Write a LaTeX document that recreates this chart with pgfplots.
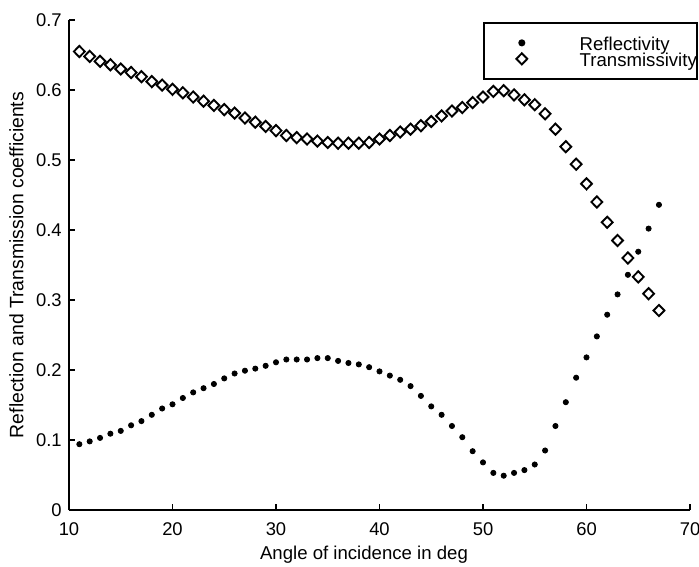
\documentclass[border=0pt]{standalone}
\usepackage{fontspec}
\setmainfont{Liberation Sans}
\usepackage{pgfplots}
\pgfplotsset{compat=1.18}

% single centred marker in the legend, with fixed room left and right of it
\pgfplotsset{
  legmark/.style={
    legend image code/.code={\path (-18.5bp,0bp) (28.5bp,0bp);
      \draw[##1, only marks] plot coordinates {(0bp,0bp)};}
  }
}

% Reflectivity and transmissivity versus angle of incidence (deg)
\pgfplotstableread{
x   y
11  0.094
12  0.098
13  0.103
14  0.109
15  0.113
16  0.121
17  0.127
18  0.136
19  0.145
20  0.151
21  0.160
22  0.168
23  0.174
24  0.180
25  0.188
26  0.195
27  0.199
28  0.202
29  0.206
30  0.211
31  0.215
32  0.215
33  0.215
34  0.217
35  0.217
36  0.213
37  0.210
38  0.208
39  0.204
40  0.198
41  0.192
42  0.186
43  0.177
44  0.163
45  0.148
46  0.136
47  0.120
48  0.104
49  0.084
50  0.068
51  0.053
52  0.049
53  0.053
54  0.057
55  0.065
56  0.085
57  0.120
58  0.154
59  0.189
60  0.218
61  0.248
62  0.279
63  0.308
64  0.336
65  0.369
66  0.402
67  0.436
}\reflect

\pgfplotstableread{
x   y
11  0.655
12  0.648
13  0.641
14  0.636
15  0.630
16  0.625
17  0.619
18  0.612
19  0.607
20  0.601
21  0.596
22  0.590
23  0.584
24  0.578
25  0.572
26  0.567
27  0.560
28  0.554
29  0.548
30  0.542
31  0.535
32  0.532
33  0.530
34  0.527
35  0.525
36  0.524
37  0.524
38  0.524
39  0.525
40  0.530
41  0.535
42  0.540
43  0.544
44  0.549
45  0.555
46  0.563
47  0.570
48  0.575
49  0.582
50  0.590
51  0.598
52  0.599
53  0.593
54  0.586
55  0.579
56  0.566
57  0.544
58  0.519
59  0.494
60  0.466
61  0.440
62  0.411
63  0.385
64  0.360
65  0.333
66  0.309
67  0.285
}\transmit

\begin{document}
\begin{tikzpicture}
\begin{axis}[
  scale only axis,
  width=310.5bp, height=245bp,
  xmin=10, xmax=70, ymin=0, ymax=0.7,
  xtick={10,20,...,70},
  ytick={0,0.1,...,0.7},
  yticklabels={0,0.1,0.2,0.3,0.4,0.5,0.6,0.7},
  axis x line=bottom, axis y line=left,
  axis line style={-, line width=0.9bp},
  tick align=inside,
  major tick length=3bp,
  every tick/.style={black, line width=0.8bp},
  /pgf/number format/assume math mode=true,
  tick label style={font=\fontsize{9.2bp}{11bp}\selectfont, inner sep=0pt},
  xticklabel shift=6bp,
  yticklabel shift=3.5bp,
  label style={font=\fontsize{9.3bp}{11bp}\selectfont, inner sep=0pt},
  xlabel={Angle of incidence in deg},
  xlabel style={at={(axis description cs:0.475,0)}, anchor=north, yshift=-18bp},
  ylabel={Reflection and Transmission coefficients},
  ylabel style={at={(axis description cs:-0.0725,0.5)}, anchor=south,
    font=\fontsize{9.7bp}{11bp}\selectfont},
  legend style={
    at={(rel axis cs:0.6667,0.996)}, anchor=north west,
    draw=black, line width=0.9bp,
    inner xsep=0bp, inner ysep=6bp,
    row sep=0bp,
    font=\fontsize{9.3bp}{8bp}\selectfont,
    nodes={inner sep=0pt, text height=7.8bp, text depth=0.2bp},
  },
  legend cell align=left,
]
\addplot[only marks, mark=*, mark size=1.3bp, black, legmark]
  table[x=x, y=y] {\reflect};
\addlegendentry{Reflectivity}
\addplot[only marks, mark=diamond, mark size=2.8bp,
  mark options={xscale=1.3, draw=black, fill=white, line width=0.95bp},
  legmark]
  table[x=x, y=y] {\transmit};
\addlegendentry{Transmissivity}
\end{axis}
\pgfresetboundingbox
\path[use as bounding box] (-34.5bp,-28.5bp) rectangle (315bp,255bp);
\end{tikzpicture}
\end{document}
